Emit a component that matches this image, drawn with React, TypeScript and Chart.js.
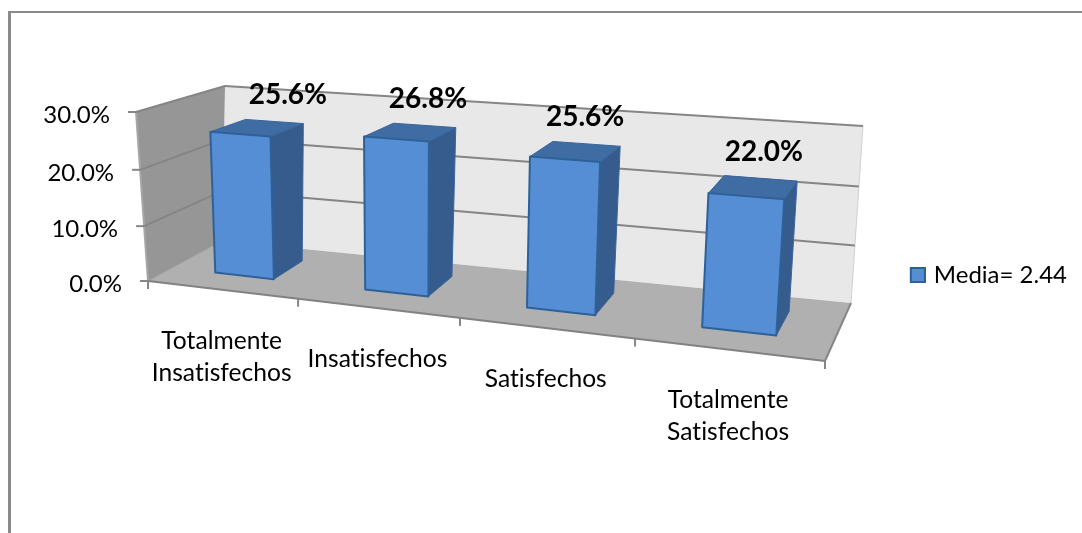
import React, { useEffect, useRef } from "react";
import { Chart, registerables } from "chart.js";

Chart.register(...registerables);

const categories: string[][] = [
  ["Totalmente", "Insatisfechos"],
  ["Insatisfechos"],
  ["Satisfechos"],
  ["Totalmente", "Satisfechos"],
];
const seriesName = "Media= 2.44";
const seriesValues: number[] = [25.6, 26.8, 25.6, 22.0];
const axisMax = 30;
const axisStep = 10;

const FONT = "Lato, Carlito, 'Open Sans', sans-serif";
const BAR_FILL = "#558ed5";
const BAR_EDGE = "#2f6199";
const fmt = (v: number) => v.toFixed(1) + "%";

// Projection of the 3D box (corners of the plot volume on the page)
type P = [number, number];
const FBL: P = [148, 281], FBR: P = [825, 361], BBL: P = [222, 241], BBR: P = [851, 303];
const FTL: P = [136, 112], FTR: P = [838, 165], BTL: P = [225, 86], BTR: P = [863, 126];
const K_U = 1.17, K_V = 1.04;
const D_FRONT = 0.33, D_BACK = 0.755;
const labelNudge = [31, 18, 10, 11];

const warp = (t: number, k: number) => t / (t + (1 - t) * k);
const lerp = (a: P, b: P, t: number): P => [a[0] + (b[0] - a[0]) * t, a[1] + (b[1] - a[1]) * t];
const project = (u: number, v: number, d: number): P => {
  const uw = warp(u, K_U), vw = warp(v, K_V);
  const bottom = lerp(lerp(FBL, FBR, uw), lerp(BBL, BBR, uw), d);
  const top = lerp(lerp(FTL, FTR, uw), lerp(BTL, BTR, uw), d);
  return lerp(bottom, top, vw);
};

const poly = (ctx: CanvasRenderingContext2D, pts: P[], fill?: string, stroke?: string, lw = 1) => {
  ctx.beginPath();
  pts.forEach((p, i) => (i ? ctx.lineTo(p[0], p[1]) : ctx.moveTo(p[0], p[1])));
  if (fill) {
    ctx.closePath();
    ctx.fillStyle = fill;
    ctx.fill();
  }
  if (stroke) {
    ctx.strokeStyle = stroke;
    ctx.lineWidth = lw;
    ctx.stroke();
  }
};

// Legend swatch: the image is centred on the legend's box, so the blank left part moves the swatch closer to the text
const makeSwatch = () => {
  const c = document.createElement("canvas");
  c.width = 24;
  c.height = 16;
  const g = c.getContext("2d") as CanvasRenderingContext2D;
  g.fillStyle = BAR_FILL;
  g.fillRect(8, 0, 16, 16);
  g.strokeStyle = BAR_EDGE;
  g.lineWidth = 2;
  g.strokeRect(9, 1, 14, 14);
  return c;
};

const box3d = {
  id: "box3d",
  beforeDatasetsDraw(chart: any) {
    const ctx: any = chart.ctx;
    const area = chart.chartArea;
    const y = chart.scales.y;
    const x = chart.scales.x;
    ctx.save();
    ctx.lineJoin = "round";
    ctx.letterSpacing = "0.01px";

    // frame
    ctx.fillStyle = "#8a8a8a";
    ctx.fillRect(8, 11, 3, 522);
    ctx.fillRect(8, 11, 1074, 2);

    // walls and floor
    poly(ctx, [BTL, BTR, BBR, BBL], "#e8e8e8");
    poly(ctx, [FTL, BTL, BBL, FBL], "#969696");
    poly(ctx, [FBL, FBR, BBR, BBL], "#b0b0b0");
    poly(ctx, [BTR, BBR], undefined, "#d0d0d0", 1);
    poly(ctx, [FTL, FBL], undefined, "#a6a6a6", 2);

    // value grid and labels
    ctx.font = `24px ${FONT}`;
    ctx.textAlign = "right";
    ctx.textBaseline = "middle";
    y.ticks.forEach((t: any) => {
      const v = (area.bottom - y.getPixelForValue(t.value)) / area.height;
      const a = project(0, v, 0), b = project(0, v, 1), c = project(1, v, 1);
      if (v > 0) {
        poly(ctx, [a, b], undefined, "#858585", 2);
        poly(ctx, [b, c], undefined, "#858585", 2);
      }
      poly(ctx, [a, [a[0] - 8, a[1]]], undefined, "#868686", 2);
      ctx.fillStyle = "#000";
      ctx.fillText(fmt(t.value), a[0] - 26, a[1] + 3);
    });

    // floor edges and category ticks
    poly(ctx, [FBR, BBR], undefined, "#868686", 2);
    poly(ctx, [FBL, BBL], undefined, "#a0a0a0", 1);
    poly(ctx, [FBL, FBR], undefined, "#828282", 2);
    categories.concat([[]]).forEach((_, i) => {
      const p = project(i / categories.length, 0, 0);
      poly(ctx, [p, [p[0], p[1] + 8]], undefined, "#868686", 2);
    });

    // category labels
    ctx.font = `24.6px ${FONT}`;
    ctx.textAlign = "center";
    x.getLabels().forEach((lab: string[], i: number) => {
      const uc = (x.getPixelForValue(i) - area.left) / area.width;
      const p = project(uc, 0, 0);
      lab.forEach((line, j) => ctx.fillText(line, p[0], p[1] + 51 + j * 32));
    });

    // bars
    const meta = chart.getDatasetMeta(0);
    meta.data.forEach((bar: any, i: number) => {
      const u0 = (bar.x - bar.width / 2 - area.left) / area.width;
      const u1 = (bar.x + bar.width / 2 - area.left) / area.width;
      const v = (area.bottom - bar.y) / area.height;
      const fbl = project(u0, 0, D_FRONT), fbr = project(u1, 0, D_FRONT);
      const ftl = project(u0, v, D_FRONT), ftr = project(u1, v, D_FRONT);
      const bbr = project(u1, 0, D_BACK), btr = project(u1, v, D_BACK), btl = project(u0, v, D_BACK);
      poly(ctx, [fbr, bbr, btr, ftr], "#355c8c", "#3a659b", 1);
      poly(ctx, [ftl, ftr, btr, btl], "#3f6ca3", "#3a659b", 1);
      poly(ctx, [ftl, ftr, fbr, fbl], bar.options.backgroundColor, bar.options.borderColor, 2);

      ctx.font = `bold 28px ${FONT}`;
      ctx.textAlign = "center";
      ctx.fillStyle = "#000";
      ctx.fillText(fmt(seriesValues[i]), (ftl[0] + btr[0]) / 2 + labelNudge[i], btr[1] - 29);
    });
    ctx.restore();
    return false;
  },
};

export default function App() {
  const ref = useRef<HTMLCanvasElement | null>(null);
  useEffect(() => {
    const chart = new Chart(ref.current as HTMLCanvasElement, {
      type: "bar",
      data: {
        labels: categories as any,
        datasets: [
          {
            label: seriesName,
            data: seriesValues,
            backgroundColor: BAR_FILL,
            borderColor: BAR_EDGE,
            borderWidth: 2,
            barPercentage: 0.4,
            categoryPercentage: 1,
          },
        ],
      },
      options: {
        animation: false,
        responsive: false,
        layout: { padding: { left: 148, right: 5, top: 115, bottom: 98 } },
        scales: {
          x: {
            offset: true,
            ticks: { display: false },
            grid: { display: false },
            border: { display: false },
            afterFit: (s: any) => {
              s.height = 150;
            },
          },
          y: {
            min: 0,
            max: axisMax,
            ticks: { display: false, stepSize: axisStep },
            grid: { display: false },
            border: { display: false },
          },
        },
        plugins: {
          tooltip: { enabled: false },
          legend: {
            position: "right",
            labels: {
              color: "#000",
              usePointStyle: true,
              pointStyle: makeSwatch(),
              boxWidth: 16,
              boxHeight: 16,
              padding: 5,
              font: { family: FONT, size: 24 },
            },
          },
        },
      },
      plugins: [box3d],
    } as any);
    return () => chart.destroy();
  }, []);
  return (
    <div style={{ position: "absolute", left: 0, top: 0, width: 1082, height: 533, background: "#fff" }}>
      <canvas ref={ref} width={1082} height={533} style={{ display: "block" }} />
    </div>
  );
}
